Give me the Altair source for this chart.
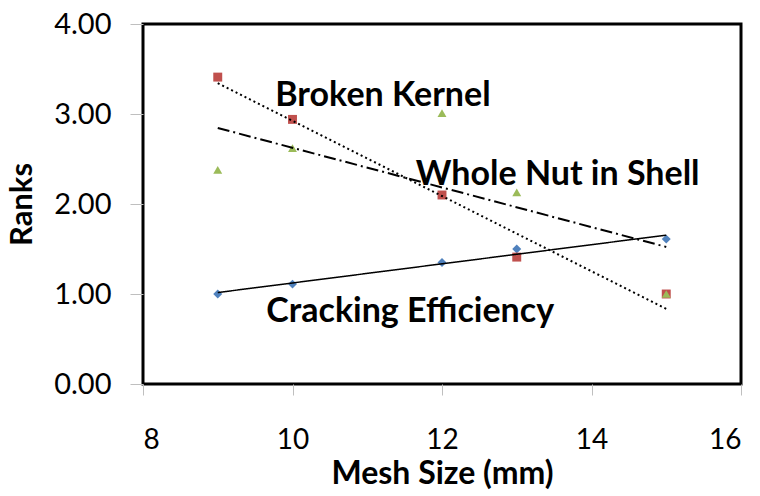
import altair as alt
import pandas as pd

mesh = [9, 10, 12, 13, 15]
cracking = [1.00, 1.11, 1.35, 1.50, 1.61]
broken = [3.41, 2.94, 2.10, 1.41, 1.00]
whole = [2.38, 2.62, 3.01, 2.13, 1.00]

series_names = ["Cracking Efficiency", "Broken Kernel", "Whole Nut in Shell"]
series_vals = [cracking, broken, whole]
colors = ["#4F81BD", "#C0504D", "#9BBB59"]
shapes = ["diamond", "square", "triangle-up"]
dashes = [[1, 0], [2, 3], [12, 4, 2, 4]]

label_text = ["Broken Kernel", "Whole Nut in Shell", "Cracking Efficiency"]
label_x = [9.77, 11.65, 9.65]
label_y = [3.20, 2.32, 0.80]

rows = []
for name, vals in zip(series_names, series_vals):
    for m, v in zip(mesh, vals):
        rows.append({"series": name, "mesh": m, "rank": v})
df = pd.DataFrame(rows)
labels = pd.DataFrame({"text": label_text, "x": label_x, "y": label_y})

FONT = "Lato"
xscale = alt.Scale(domain=[8, 16], nice=False, zero=False)
yscale = alt.Scale(domain=[0, 4], nice=False)

xenc = alt.X("mesh:Q", scale=xscale, title="Mesh Size (mm)",
             axis=alt.Axis(values=[8, 10, 12, 14, 16], format="d", grid=False, domain=False,
                           tickColor="#BFBFBF", tickSize=11, tickWidth=1,
                           labelFontSize=28, labelFont=FONT, labelColor="black",
                           labelPadding=31, titleFont=FONT, titleFontSize=32,
                           titleFontWeight="bold", titlePadding=4, titleColor="black"))
yenc = alt.Y("rank:Q", scale=yscale, title="Ranks",
             axis=alt.Axis(values=[0, 1, 2, 3, 4], format=".2f", grid=False, domain=False,
                           tickColor="#BFBFBF", tickSize=13, tickWidth=1,
                           labelFontSize=29, labelFont=FONT, labelColor="black",
                           labelPadding=19, titleFont=FONT, titleFontSize=31,
                           titleFontWeight="bold", titlePadding=15, titleColor="black"))

layers = []
for name, col, shp in zip(series_names, colors, shapes):
    pts = alt.Chart(df).transform_filter(alt.datum.series == name).mark_point(
        shape=shp, filled=True, color=col, size=80, opacity=1
    ).encode(x=xenc, y=yenc)
    layers.append(pts)

for name, dsh in zip(series_names, dashes):
    ln = alt.Chart(df).transform_filter(alt.datum.series == name).transform_regression(
        "mesh", "rank"
    ).mark_line(color="black", strokeWidth=2 if name != "Cracking Efficiency" else 1.5,
                strokeDash=dsh).encode(x=alt.X("mesh:Q", scale=xscale),
                                       y=alt.Y("rank:Q", scale=yscale))
    layers.append(ln)

txt = alt.Chart(labels).mark_text(align="left", baseline="middle", font=FONT,
                                  fontSize=34, fontWeight="bold", color="black").encode(
    x=alt.X("x:Q", scale=xscale), y=alt.Y("y:Q", scale=yscale), text="text:N")
layers.append(txt)

chart = alt.layer(*layers).properties(
    width=598, height=360,
    background="white",
    autosize=alt.AutoSizeParams(type="none"),
    padding={"left": 143, "top": 24, "right": 19, "bottom": 112},
).configure_view(stroke="black", strokeWidth=3)

chart.save("out.html", embed_options={"renderer": "svg", "actions": False})
